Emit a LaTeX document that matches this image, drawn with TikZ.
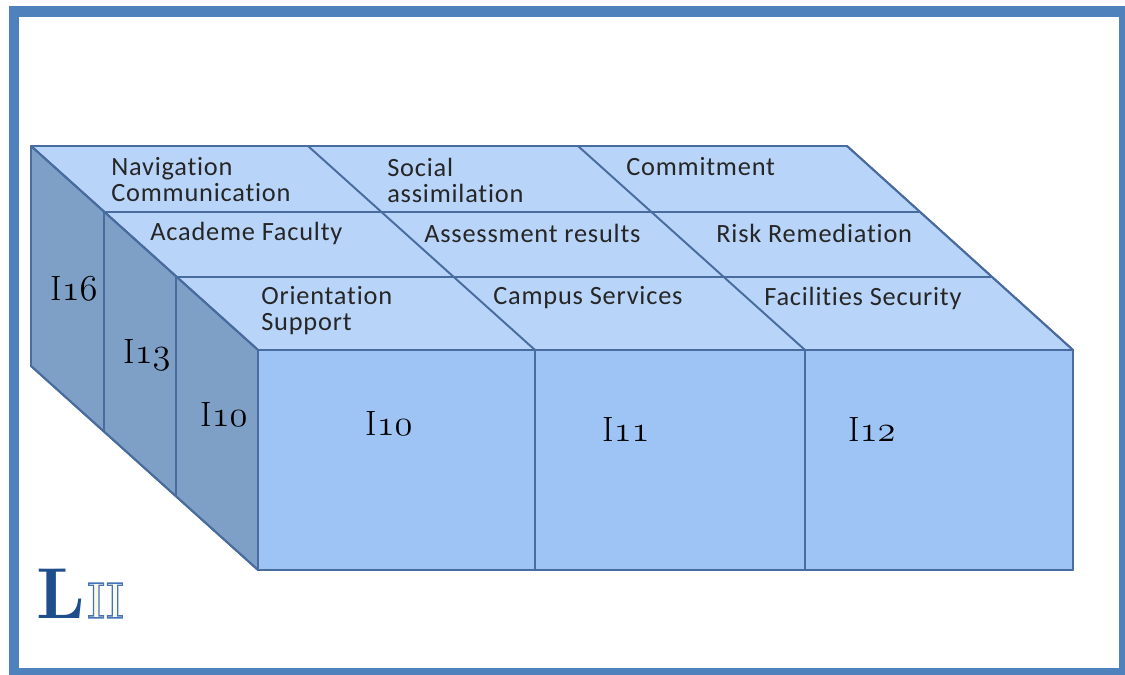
\documentclass[tikz,border=0pt]{standalone}
\usepackage{fontspec}
\usepackage{xcolor}
\usepackage{tikz}
\newfontfamily\facefont{Carlito}[LetterSpace=3,Ligatures=NoCommon]
\definecolor{framecol}{RGB}{79,129,189}
\definecolor{edgecol}{RGB}{72,108,158}
\definecolor{topcol}{RGB}{184,212,248}
\definecolor{frontcol}{RGB}{158,196,245}
\definecolor{sidecol}{RGB}{126,159,198}
\definecolor{lcol}{RGB}{31,78,140}
\definecolor{iicol}{RGB}{250,248,230}
\tikzstyle{frame}=[draw=framecol,line width=0.22cm,fill=white]
\tikzstyle{face}=[draw=edgecol,line width=1.1pt,line join=round]
\tikzstyle{edge}=[draw=edgecol,line width=1.1pt]
\tikzstyle{lbl}=[font=\facefont\fontsize{15}{14.8}\selectfont,align=left,anchor=west,inner sep=0pt,text=black!85]
\tikzstyle{idx}=[font=\fontsize{20}{24}\selectfont,anchor=base west,inner sep=0pt]
\newcommand{\ilabel}[1]{I$\mathnormal{#1}$}

\begin{document}
\begin{tikzpicture}[x=0.02cm,y=-0.02cm]
  \useasboundingbox (0,0) rectangle (1125,675);
  \draw[frame] (14,11.5) rectangle (1124.5,673);
  %Faces
  \fill[face,fill=topcol]   (31,146) -- (847,146) -- (1073,350) -- (258,350) -- cycle;
  \fill[face,fill=sidecol]  (31,146) -- (258,350) -- (258,570) -- (31,366) -- cycle;
  \fill[face,fill=frontcol] (258,350) rectangle (1073,570);
  \draw[face] (31,146) -- (847,146) -- (1073,350) -- (1073,570) -- (258,570) -- (31,366) -- cycle;
  \draw[face] (31,146) -- (258,350) -- (1073,350);
  \draw[face] (258,350) -- (258,570);
  %Lines
  \draw[edge] (104,212) -- (920,212);
  \draw[edge] (176,277) -- (992,277);
  \draw[edge] (308,146) -- (535,350);
  \draw[edge] (578,146) -- (805,350);
  \draw[edge] (535,350) -- (535,570);
  \draw[edge] (805,350) -- (805,570);
  \draw[edge] (104,212) -- (104,432);
  \draw[edge] (176,277) -- (176,497);
  %Top labels
  \node[lbl] (nav)    at (111,180) {Navigation\\Communication};
  \node[lbl] (social) at (387,180) {Social\\assimilation};
  \node[lbl] (commit) at (626,167) {Commitment};
  \node[lbl] (acad)   at (150,233) {Academe Faculty};
  \node[lbl] (assess) at (424,233) {Assessment results};
  \node[lbl] (risk)   at (716,233) {Risk Remediation};
  \node[lbl] (orient) at (261,311) {Orientation\\Support};
  \node[lbl] (campus) at (493,298) {Campus Services};
  \node[lbl] (facil)  at (764,298) {Facilities Security};
  %Index labels
  \node[idx] (i16)  at (50,301)  {\ilabel{16}};
  \node[idx] (i13)  at (123,363) {\ilabel{13}};
  \node[idx] (i10s) at (200,426) {\ilabel{10}};
  \node[idx] (i10)  at (365,435) {\ilabel{10}};
  \node[idx] (i11)  at (602,441) {\ilabel{11}};
  \node[idx] (i12)  at (848,441) {\ilabel{12}};
  %Level
  \node[anchor=base west,inner sep=0pt,text=lcol,font=\bfseries\fontsize{41}{41}\selectfont] (L) at (36,618) {L};
  \node[anchor=base west,inner sep=0pt,xscale=0.82,font=\bfseries\fontsize{29}{29}\selectfont] (II) at ([xshift=1]L.base east)
    {\color{iicol}\special{pdf:literal direct 0.27 0.45 0.72 RG 2 Tr 0.8 w}II\special{pdf:literal direct 0 Tr}};
\end{tikzpicture}
\end{document}
